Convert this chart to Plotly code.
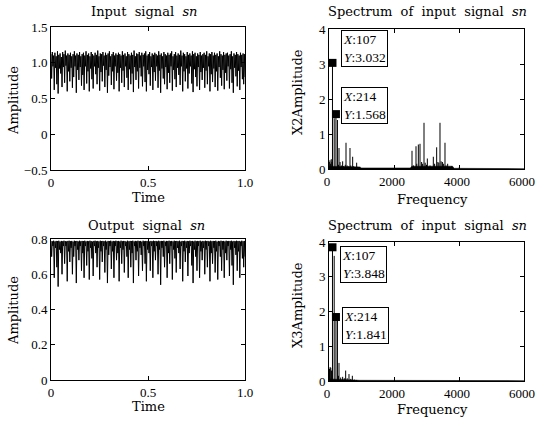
import numpy as np
import plotly.graph_objects as go

# ---------------- data ----------------
in_hi = [1.12, 1.15, 1.10, 1.14, 1.09, 1.16, 1.11, 1.13, 1.08, 1.15, 1.12, 1.17, 1.10, 1.13, 1.11, 1.14, 1.09, 1.12, 1.16, 1.10, 1.13, 1.11, 1.15, 1.09, 1.12, 1.14, 1.10, 1.16, 1.11, 1.13,
         1.09, 1.15, 1.12, 1.10, 1.14, 1.11, 1.17, 1.09, 1.13, 1.12, 1.15, 1.10, 1.14, 1.11, 1.13, 1.16, 1.09, 1.12, 1.15, 1.10, 1.13, 1.11, 1.14, 1.12, 1.10, 1.16, 1.11, 1.13, 1.09, 1.15,
         1.12, 1.10, 1.14, 1.11, 1.17, 1.09, 1.13, 1.12, 1.15, 1.10, 1.14, 1.11, 1.13, 1.16, 1.10, 1.12, 1.15, 1.09, 1.13, 1.11, 1.14, 1.12, 1.10, 1.16, 1.11, 1.13, 1.09, 1.15, 1.12, 1.10,
         1.14, 1.11, 1.13, 1.16, 1.09, 1.12, 1.15, 1.10, 1.13, 1.11, 1.17, 1.10, 1.14, 1.12, 1.09, 1.15, 1.11, 1.13, 1.10, 1.16, 1.12, 1.14, 1.09, 1.13, 1.11, 1.15, 1.10, 1.12, 1.14, 1.11,
         1.16, 1.09, 1.13, 1.12, 1.15, 1.10, 1.14, 1.11, 1.13, 1.09, 1.16, 1.12, 1.10, 1.15, 1.11, 1.13, 1.14, 1.10, 1.12, 1.16, 1.09, 1.13, 1.11, 1.15, 1.12, 1.10, 1.14, 1.11, 1.13, 1.12]
in_lo = [0.78, 0.95, 0.62, 0.93, 0.70, 0.57, 0.92, 0.85, 0.66, 0.94, 0.72, 0.96, 0.60, 0.88, 0.74, 0.93, 0.65, 0.80, 0.95, 0.58, 0.90, 0.76, 0.94, 0.68, 0.83, 0.62, 0.95, 0.71, 0.88, 0.60,
         0.92, 0.77, 0.64, 0.95, 0.84, 0.70, 0.93, 0.61, 0.87, 0.74, 0.96, 0.66, 0.90, 0.58, 0.82, 0.94, 0.69, 0.88, 0.63, 0.95, 0.75, 0.86, 0.60, 0.93, 0.72, 0.89, 0.66, 0.95, 0.79, 0.62,
         0.91, 0.70, 0.85, 0.59, 0.94, 0.76, 0.88, 0.64, 0.93, 0.81, 0.67, 0.95, 0.73, 0.60, 0.90, 0.84, 0.68, 0.94, 0.62, 0.87, 0.75, 0.95, 0.65, 0.89, 0.58, 0.92, 0.78, 0.70, 0.94, 0.63,
         0.86, 0.72, 0.95, 0.61, 0.90, 0.77, 0.66, 0.93, 0.83, 0.69, 0.95, 0.60, 0.88, 0.74, 0.92, 0.64, 0.85, 0.95, 0.71, 0.59, 0.91, 0.80, 0.67, 0.94, 0.62, 0.87, 0.76, 0.93, 0.65, 0.89,
         0.70, 0.95, 0.60, 0.84, 0.73, 0.92, 0.66, 0.88, 0.61, 0.94, 0.79, 0.68, 0.90, 0.63, 0.86, 0.75, 0.95, 0.64, 0.91, 0.72, 0.58, 0.93, 0.81, 0.67, 0.89, 0.62, 0.94, 0.77, 0.70, 0.80]

out_hi = [0.789, 0.787, 0.790, 0.786, 0.789, 0.788, 0.790, 0.785, 0.789, 0.787, 0.790, 0.788, 0.786, 0.789, 0.790, 0.787, 0.789, 0.785, 0.790, 0.788, 0.789, 0.786, 0.790, 0.787, 0.789, 0.788, 0.790, 0.786, 0.789, 0.787,
          0.790, 0.788, 0.785, 0.789, 0.790, 0.787, 0.789, 0.786, 0.790, 0.788, 0.789, 0.787, 0.790, 0.785, 0.789, 0.788, 0.790, 0.786, 0.789, 0.787, 0.790, 0.788, 0.789, 0.786, 0.790, 0.787, 0.789, 0.788, 0.785, 0.790,
          0.787, 0.789, 0.788, 0.790, 0.786, 0.789, 0.787, 0.790, 0.788, 0.789, 0.785, 0.790, 0.787, 0.789, 0.788, 0.790, 0.786, 0.789, 0.787, 0.790, 0.788, 0.789, 0.786, 0.790, 0.787, 0.789, 0.788, 0.790, 0.785, 0.789,
          0.788, 0.790, 0.787, 0.789, 0.786, 0.790, 0.788, 0.789, 0.787, 0.790, 0.785, 0.789, 0.788, 0.790, 0.786, 0.789, 0.787, 0.790, 0.788, 0.789, 0.786, 0.790, 0.787, 0.789, 0.788, 0.790, 0.785, 0.789, 0.787, 0.790,
          0.788, 0.789, 0.786, 0.790, 0.787, 0.789, 0.788, 0.790, 0.785, 0.789, 0.787, 0.790, 0.788, 0.789, 0.786, 0.790, 0.787, 0.789, 0.788, 0.790, 0.786, 0.789, 0.787, 0.790, 0.788, 0.789, 0.785, 0.790, 0.787, 0.789]
out_lo = [0.70, 0.76, 0.58, 0.75, 0.64, 0.53, 0.74, 0.72, 0.60, 0.76, 0.66, 0.76, 0.56, 0.73, 0.67, 0.75, 0.60, 0.70, 0.76, 0.55, 0.74, 0.68, 0.76, 0.62, 0.72, 0.58, 0.76, 0.65, 0.73, 0.57,
          0.75, 0.69, 0.59, 0.76, 0.72, 0.64, 0.75, 0.57, 0.73, 0.67, 0.76, 0.61, 0.74, 0.55, 0.71, 0.76, 0.63, 0.73, 0.58, 0.76, 0.68, 0.72, 0.56, 0.75, 0.66, 0.74, 0.61, 0.76, 0.70, 0.58,
          0.74, 0.64, 0.72, 0.55, 0.76, 0.68, 0.73, 0.59, 0.75, 0.71, 0.62, 0.76, 0.66, 0.56, 0.74, 0.72, 0.62, 0.76, 0.58, 0.73, 0.68, 0.76, 0.60, 0.74, 0.54, 0.75, 0.70, 0.64, 0.76, 0.58,
          0.72, 0.66, 0.76, 0.57, 0.74, 0.69, 0.61, 0.75, 0.72, 0.63, 0.76, 0.56, 0.73, 0.67, 0.75, 0.59, 0.72, 0.76, 0.65, 0.55, 0.74, 0.70, 0.62, 0.76, 0.58, 0.73, 0.68, 0.75, 0.60, 0.74,
          0.64, 0.76, 0.56, 0.72, 0.66, 0.75, 0.61, 0.73, 0.57, 0.76, 0.70, 0.62, 0.74, 0.58, 0.72, 0.68, 0.76, 0.59, 0.74, 0.65, 0.54, 0.75, 0.71, 0.62, 0.73, 0.58, 0.76, 0.69, 0.64, 0.70]

# spectrum of input (X2)
x2_freq = [10, 30, 50, 70, 90, 107, 160, 214, 260, 290, 308, 340, 390, 420, 450, 500, 523, 560, 610, 646, 670, 710, 728, 760, 820, 851, 880,
           2554, 2600, 2677, 2700, 2749, 2800, 2850, 2880, 2923, 2960, 3000, 3026, 3108, 3210, 3250, 3313, 3350, 3380, 3415, 3450, 3490, 3520, 3569, 3600, 3651, 3700, 3775, 4010]
x2_amp = [0.20, 0.25, 0.15, 0.28, 0.20, 3.032, 1.45, 1.568, 1.40, 0.12, 0.60, 0.20, 0.10, 0.22, 0.08, 0.12, 0.75, 0.10, 0.08, 0.60, 0.10, 0.06, 0.35, 0.08, 0.05, 0.18, 0.06,
          0.52, 0.10, 0.65, 0.15, 0.70, 0.72, 0.20, 0.15, 1.32, 0.18, 0.12, 0.30, 0.10, 0.35, 0.15, 0.62, 0.20, 0.18, 1.32, 0.22, 0.20, 0.15, 0.75, 0.10, 0.15, 0.06, 0.08, 0.05]
x2_floor_f = [0, 950, 1000, 2500, 2550, 3800, 3850, 6000]
x2_floor_a = [0.08, 0.06, 0.03, 0.03, 0.08, 0.08, 0.02, 0.01]

# spectrum of output (X3)
x3_freq = [15, 35, 55, 75, 107, 160, 214, 260, 290, 308, 360, 420, 470, 513, 560, 615, 670, 718, 780, 850]
x3_amp = [0.35, 0.40, 0.38, 0.30, 3.848, 3.60, 1.841, 1.75, 0.15, 0.52, 0.10, 0.12, 0.08, 0.30, 0.08, 0.20, 0.06, 0.15, 0.04, 0.03]
x3_floor_f = [0, 900, 950, 6000]
x3_floor_a = [0.06, 0.04, 0.02, 0.01]

# data tips
tip2 = [(107, 3.032), (214, 1.568)]
tip3 = [(107, 3.848), (214, 1.841)]

# ---------------- figure ----------------
W, H = 535, 421
serif = "DejaVu Serif"
numfont = "Liberation Serif"


def interleave(a, b):
    out = []
    for u, v in zip(a, b):
        out += [u, v]
    return out


def stems(f, a):
    xs, ys = [], []
    for fi, ai in zip(f, a):
        xs += [fi, fi, None]
        ys += [0, ai, None]
    return xs, ys


sig_in = interleave(in_hi, in_lo)
sig_out = interleave(out_hi, out_lo)
t_in = np.linspace(0, 1, len(sig_in))
t_out = np.linspace(0, 1, len(sig_out))

fig = go.Figure()
fig.add_trace(go.Scatter(x=t_in, y=sig_in, mode="lines", line=dict(color="black", width=1), xaxis="x", yaxis="y"))
fig.add_trace(go.Scatter(x=t_out, y=sig_out, mode="lines", line=dict(color="black", width=1), xaxis="x3", yaxis="y3"))

for f_, a_, ff, fa, xa, ya, tips in [
    (x2_freq, x2_amp, x2_floor_f, x2_floor_a, "x2", "y2", tip2),
    (x3_freq, x3_amp, x3_floor_f, x3_floor_a, "x4", "y4", tip3),
]:
    fig.add_trace(go.Scatter(x=ff, y=fa, mode="lines", fill="tozeroy", fillcolor="black",
                             line=dict(color="black", width=0.5), xaxis=xa, yaxis=ya))
    xs, ys = stems(f_, a_)
    fig.add_trace(go.Scatter(x=xs, y=ys, mode="lines", line=dict(color="black", width=1),
                             xaxis=xa, yaxis=ya, connectgaps=False))
    fig.add_trace(go.Scatter(x=[p[0] for p in tips], y=[p[1] for p in tips], mode="markers",
                             marker=dict(symbol="square", size=8, color="black"), xaxis=xa, yaxis=ya))


def px(x):
    return x / W


def py(y):
    return 1 - y / H


axis_common = dict(showline=True, linecolor="black", linewidth=1, mirror="ticks", ticks="inside",
                   ticklen=4, tickcolor="black", showgrid=False, zeroline=False, automargin=False,
                   ticklabeloverflow="allow",
                   tickfont=dict(family=numfont, size=13, color="black"))

left_dom = [px(51), px(245)]
right_dom = [px(329), px(524)]

fig.update_layout(
    template="none",
    width=W, height=H, margin=dict(l=0, r=0, t=0, b=0, pad=0, autoexpand=False), showlegend=False,
    paper_bgcolor="white", plot_bgcolor="white",
    xaxis=dict(domain=left_dom, range=[0, 1], tickvals=[0, 0.5, 1.0], ticktext=["0", "0.5", "1.0"], anchor="y", **axis_common),
    yaxis=dict(domain=[py(170), py(27)], range=[-0.5, 1.5], tickvals=[-0.5, 0, 0.5, 1.0, 1.5],
               ticktext=["\u22120.5", "0", "0.5", "1.0", "1.5"], anchor="x", **axis_common),
    xaxis2=dict(domain=right_dom, range=[0, 6000], tickvals=[0, 2000, 4000, 6000], ticktext=["0", "2000", "4000", "6000"],
                ticklabelshift=-2, anchor="y2", **axis_common),
    yaxis2=dict(domain=[py(169), py(29)], range=[0, 4], tickvals=[0, 1, 2, 3, 4], ticktext=["0", "1", "2", "3", "4"], anchor="x2", **axis_common),
    xaxis3=dict(domain=left_dom, range=[0, 1], tickvals=[0, 0.5, 1.0], ticktext=["0", "0.5", "1.0"], anchor="y3", **axis_common),
    yaxis3=dict(domain=[py(380), py(239)], range=[0, 0.8], tickvals=[0, 0.2, 0.4, 0.6, 0.8],
                ticktext=["0", "0.2", "0.4", "0.6", "0.8"], anchor="x3", **axis_common),
    xaxis4=dict(domain=right_dom, range=[0, 6000], tickvals=[0, 2000, 4000, 6000], ticktext=["0", "2000", "4000", "6000"],
                ticklabelshift=-2, anchor="y4", **axis_common),
    yaxis4=dict(domain=[py(381), py(242)], range=[0, 4], tickvals=[0, 1, 2, 3, 4], ticktext=["0", "1", "2", "3", "4"], anchor="x4", **axis_common),
)

anns = []


def label(text, x, y, size=13, angle=0):
    anns.append(dict(text=text, x=px(x), y=py(y), xref="paper", yref="paper", showarrow=False,
                     xanchor="center", yanchor="middle", textangle=angle,
                     font=dict(family=serif, size=size, color="black")))


label("Input&nbsp; signal&nbsp; <i>sn</i>", 144, 12, 13)
label("Spectrum&nbsp; of&nbsp; input&nbsp; signal&nbsp; <i>sn</i>", 427, 12, 13)
label("Output&nbsp; signal&nbsp; <i>sn</i>", 146, 225, 13)
label("Spectrum&nbsp; of&nbsp; input&nbsp; signal&nbsp; <i>sn</i>", 427, 225, 13)
label("Time", 148, 197, 13)
label("Frequency", 432, 199, 13)
label("Time", 148, 406, 13)
label("Frequency", 432, 409, 13)
label("Amplitude", 13, 101, 13, -90)
label("X2Amplitude", 297, 92, 13, -90)
label("Amplitude", 13, 311, 13, -90)
label("X3Amplitude", 297, 305, 13, -90)


def tipbox(xa, ya, xval, yval, fx, fy):
    anns.append(dict(text="<i>X</i>:%d<br><i>Y</i>:%s" % (fx, fy), x=xval, y=yval, xref=xa, yref=ya,
                     showarrow=False, xanchor="left", yanchor="middle", align="left",
                     bordercolor="black", borderwidth=1, borderpad=1, bgcolor="white",
                     font=dict(family=numfont, size=13.5, color="black")))


tipbox("x2", "y2", 370, 3.43, tip2[0][0], "%.3f" % tip2[0][1])
tipbox("x2", "y2", 370, 1.82, tip2[1][0], "%.3f" % tip2[1][1])
tipbox("x4", "y4", 330, 3.34, tip3[0][0], "%.3f" % tip3[0][1])
tipbox("x4", "y4", 400, 1.61, tip3[1][0], "%.3f" % tip3[1][1])

fig.update_layout(annotations=anns)
fig.write_html("out.html")
